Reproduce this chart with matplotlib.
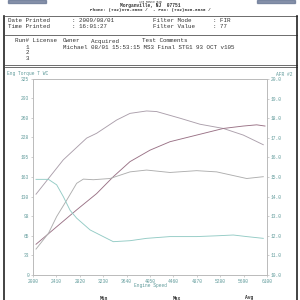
import matplotlib
matplotlib.use("Agg")
from matplotlib import pyplot as plt
from matplotlib.lines import Line2D
from matplotlib.patches import Rectangle

# dyno sheet values
rpm_a = [2053, 2531, 2940, 3115, 3466, 3700, 3990, 4167, 4575, 4926, 5335, 5685, 6035]
torque = [134, 191, 227, 235, 257, 268, 272, 271, 260, 250, 243, 232, 216]

rpm_b = [2053, 2415, 2765, 3115, 3407, 3700, 4050, 4400, 4867, 5335, 5685, 5919, 6065]
power = [51, 80, 108, 135, 163, 188, 207, 221, 232, 243, 247, 249, 247]

rpm_c = [2053, 2270, 2415, 2590, 2765, 2882, 3057, 3350, 3700, 3990, 4400, 4867, 5218, 5744, 6035]
third = [43, 69, 97, 124, 152, 159, 158, 160, 171, 174, 170, 173, 171, 160, 163]

rpm_d = [2053, 2270, 2415, 2531, 2650, 2765, 3000, 3230, 3407, 3700, 3990, 4400, 4867, 5218, 5510, 5744, 6035]
afr = [14.88, 14.88, 14.6, 14.0, 13.3, 12.9, 12.3, 11.96, 11.7, 11.75, 11.87, 11.96, 11.96, 12.0, 12.04, 11.96, 11.87]

left_ticks = [0, 33, 65, 98, 130, 163, 195, 228, 260, 293, 325]
right_ticks = [10.0, 11.0, 12.0, 13.0, 14.0, 15.0, 16.0, 17.0, 18.0, 19.0, 20.0]
x_ticks = [2000, 2410, 2820, 3230, 3640, 4050, 4460, 4870, 5280, 5690, 6100]

mono = "Liberation Mono"
teal = "#5f9a9a"
dark = "#333333"

fig = plt.figure(figsize=(3, 3), dpi=100)
fig.patch.set_facecolor("white")

def px(x, y):
    return x / 300, 1 - y / 300

def hline(y, x0=5, x1=297, c="#555555", lw=0.6):
    fig.add_artist(Line2D([x0 / 300, x1 / 300], [1 - y / 300, 1 - y / 300], color=c, lw=lw))

def vline(x, y0, y1, c="#222222", lw=0.8):
    fig.add_artist(Line2D([x / 300, x / 300], [1 - y0 / 300, 1 - y1 / 300], color=c, lw=lw))

# header
fig.text(*px(150, 1.6), "175 Route 520", fontsize=2.2, family=mono, ha="center", va="center", color=dark)
fig.text(*px(150, 5.5), "Morganville, NJ  07751", fontsize=3.3, family=mono, ha="center", va="center",
         color=dark, weight="bold")
fig.text(*px(150, 10.3), "Phone: (732)970-9009 /  - Fax: (732)626-6030 /", fontsize=3.2, family=mono,
         ha="center", va="center", color=dark, weight="bold")
fig.add_artist(Rectangle(px(8, 3), 38 / 300, 3 / 300, color="#5a6a8a", alpha=0.7))
fig.add_artist(Rectangle(px(257, 3), 38 / 300, 3 / 300, color="#5a6a8a", alpha=0.7))

# boxes
hline(16)
hline(35)
hline(65.5)
hline(67)
vline(4, 16, 300, lw=1.2)
vline(297, 16, 300, lw=1.2)

fs = 4.2
fig.text(*px(8, 21), "Date Printed", fontsize=fs, family=mono, va="center", color=dark)
fig.text(*px(72, 21), ": 2009/08/01", fontsize=fs, family=mono, va="center", color=dark)
fig.text(*px(153, 21), "Filter Mode", fontsize=fs, family=mono, va="center", color=dark)
fig.text(*px(213, 21), ": FIR", fontsize=fs, family=mono, va="center", color=dark)
fig.text(*px(8, 27), "Time Printed", fontsize=fs, family=mono, va="center", color=dark)
fig.text(*px(72, 27), ": 16:01:27", fontsize=fs, family=mono, va="center", color=dark)
fig.text(*px(153, 27), "Filter Value", fontsize=fs, family=mono, va="center", color=dark)
fig.text(*px(213, 27), ": 77", fontsize=fs, family=mono, va="center", color=dark)

fig.text(*px(15, 41), "Run# License", fontsize=fs, family=mono, va="center", color=dark)
fig.text(*px(63, 41), "Owner", fontsize=fs, family=mono, va="center", color=dark)
fig.text(*px(91, 41), "Acquired", fontsize=fs, family=mono, va="center", color=dark)
fig.text(*px(142, 41), "Test Comments", fontsize=fs, family=mono, va="center", color=dark)
fig.text(*px(26, 47), "1", fontsize=fs, family=mono, va="center", color=dark)
fig.text(*px(63, 47), "Michael 08/01 15:53:15 MS3 Final STG1 93 OCT v105", fontsize=fs, family=mono,
         va="center", color=dark)
fig.text(*px(26, 52.5), "2", fontsize=fs, family=mono, va="center", color=dark)
fig.text(*px(26, 58), "3", fontsize=fs, family=mono, va="center", color=dark)

# chart
ax = fig.add_axes([33 / 300, 25 / 300, 234 / 300, 196 / 300])
ax2 = ax.twinx()

ax.plot(rpm_a, torque, color="#ab9fab", lw=0.65)
ax.plot(rpm_b, power, color="#9a7286", lw=0.65)
ax.plot(rpm_c, third, color="#aeaeae", lw=0.65)
ax2.plot(rpm_d, afr, color="#93cbc5", lw=0.65)

ax.set_xlim(2000, 6100)
ax.set_ylim(0, 325)
ax2.set_ylim(10, 20)
ax.set_xticks(x_ticks)
ax.set_yticks(left_ticks)
ax2.set_yticks(right_ticks)
ax.set_xticklabels([str(v) for v in x_ticks], fontsize=3.3, family=mono, color=teal)
ax.set_yticklabels([str(v) for v in left_ticks], fontsize=3.3, family=mono, color=teal)
ax2.set_yticklabels(["%.1f" % v for v in right_ticks], fontsize=3.3, family=mono, color=teal)
for a in (ax, ax2):
    a.tick_params(length=1.2, width=0.4, pad=1.5, colors="#aaaaaa", labelcolor=teal)
    for s in a.spines.values():
        s.set_color("#bbbbbb")
        s.set_linewidth(0.6)

fig.text(*px(7, 73), "Eng Torque T WC", fontsize=3.3, family=mono, va="center", color=teal)
fig.text(*px(293, 75), "AFR #2", fontsize=3.3, family=mono, va="center", ha="right", color=teal)
fig.text(*px(150, 286), "Engine Speed", fontsize=3.3, family=mono, va="center", ha="center", color=teal)

fig.text(*px(104, 298), "Min", fontsize=3.3, family=mono, va="center", ha="center", color=dark,
         weight="bold")
fig.text(*px(177, 298), "Max", fontsize=3.3, family=mono, va="center", ha="center", color=dark,
         weight="bold")
fig.text(*px(249, 298), "Avg", fontsize=3.3, family=mono, va="center", ha="center", color=dark,
         weight="bold")

fig.savefig("out.png", dpi=100, facecolor="white")
